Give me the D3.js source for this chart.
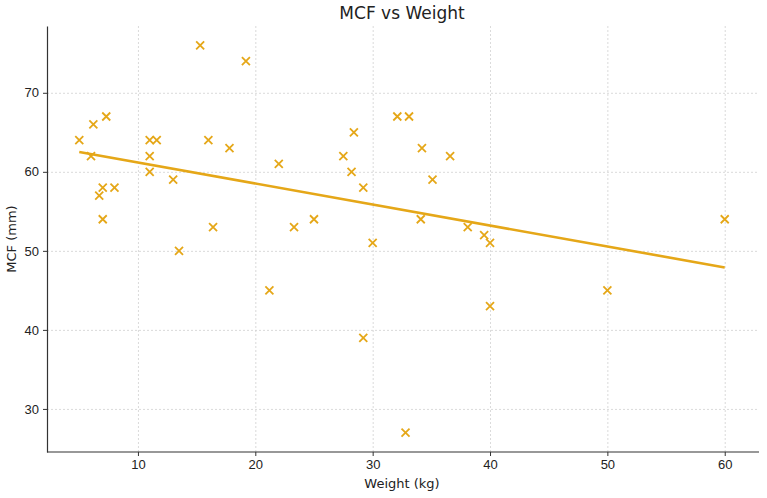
<!DOCTYPE html>
<head>
<meta charset="utf-8">
<script src="https://d3js.org/d3.v7.min.js"></script>
<style>
body { margin: 0; background: white; }
svg { display: block; font-family: "DejaVu Sans", sans-serif; }
.grid line { stroke: #d0d0d0; stroke-dasharray: 2,2; stroke-width: 0.8; }
.grid .domain { display: none; }
.axis text { font-size: 13px; fill: #222; }
.axis line, .axis path { stroke: #333; }
</style>
</head>
<body>
<svg width="767" height="498"></svg>
<script>
// weight (kg) and MCF (mm)
var weight = [5, 6, 6.2, 6.7, 7, 7, 7.3, 8, 11, 11, 11, 11.6, 13, 13.5, 15.3, 16, 16.4, 17.8, 19.2,
              21.2, 22, 23.3, 25, 27.5, 28.2, 28.4, 29.2, 29.2, 30, 32.1, 32.8, 33.1, 34.1, 34.2,
              35.1, 36.6, 38.1, 39.5, 40, 40, 50, 60];
var mcf    = [64, 62, 66, 57, 58, 54, 67, 58, 64, 62, 60, 64, 59, 50, 76, 64, 53, 63, 74,
              45, 61, 53, 54, 62, 60, 65, 58, 39, 51, 67, 27, 67, 54, 63,
              59, 62, 53, 52, 51, 43, 45, 54];
// fitted trend line ends
var trendX = [5, 60];
var trendY = [62.5, 47.9];

var xTicks = [10, 20, 30, 40, 50, 60];
var yTicks = [30, 40, 50, 60, 70];

var color = "#e5a718";
var margin = {left: 47, top: 26};
var right = 759, bottom = 452;

var svg = d3.select("svg");

var x = d3.scaleLinear().domain([2.25, 62.75]).range([margin.left, 757]);
var y = d3.scaleLinear().domain([24.55, 78.45]).range([bottom, margin.top]);

// grid
svg.append("g").attr("class", "grid")
   .attr("transform", "translate(0," + bottom + ")")
   .call(d3.axisBottom(x).tickValues(xTicks).tickSize(-(bottom - margin.top)).tickFormat(""));
svg.append("g").attr("class", "grid")
   .attr("transform", "translate(" + margin.left + ",0)")
   .call(d3.axisLeft(y).tickValues(yTicks).tickSize(-(right - margin.left)).tickFormat(""));

// axes
var xa = svg.append("g").attr("class", "axis")
   .attr("transform", "translate(0," + bottom + ")")
   .call(d3.axisBottom(x).tickValues(xTicks).tickSize(4).tickPadding(4).tickSizeOuter(0));
xa.select(".domain").attr("d", "M" + margin.left + ",0H" + right).attr("stroke-width", 1.2);
svg.append("g").attr("class", "axis")
   .attr("transform", "translate(" + margin.left + ",0)")
   .call(d3.axisLeft(y).tickValues(yTicks).tickSize(4).tickPadding(4).tickSizeOuter(0))
   .select(".domain").attr("stroke-width", 1.2);

// trend line
var pts = trendX.map(function(d, i) { return [d, trendY[i]]; });
svg.append("path")
   .datum(pts)
   .attr("d", d3.line().x(function(d) { return x(d[0]); }).y(function(d) { return y(d[1]); }))
   .attr("fill", "none")
   .attr("stroke", color)
   .attr("stroke-width", 2.6);

// x markers
var s = 4;
var g = svg.append("g");
weight.forEach(function(w, i) {
  var cx = x(w), cy = y(mcf[i]);
  g.append("path")
   .attr("d", "M" + (cx - s) + "," + (cy - s) + "L" + (cx + s) + "," + (cy + s) +
              "M" + (cx - s) + "," + (cy + s) + "L" + (cx + s) + "," + (cy - s))
   .attr("stroke", color)
   .attr("stroke-width", 1.8);
});

// titles
svg.append("text")
   .attr("x", (margin.left + 757) / 2).attr("y", 19)
   .attr("text-anchor", "middle")
   .style("font-size", "17px").style("fill", "#222")
   .text("MCF vs Weight");
svg.append("text")
   .attr("x", (margin.left + 757) / 2).attr("y", 488)
   .attr("text-anchor", "middle")
   .style("font-size", "13px").style("fill", "#222")
   .text("Weight (kg)");
svg.append("text")
   .attr("transform", "translate(16," + (bottom + margin.top) / 2 + ") rotate(-90)")
   .attr("text-anchor", "middle")
   .style("font-size", "13px").style("fill", "#222")
   .text("MCF (mm)");
</script>
</body>
</html>
